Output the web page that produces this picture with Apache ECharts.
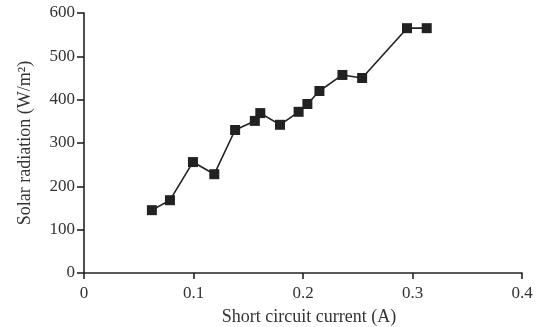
<!DOCTYPE html>
<html>
<head>
<meta charset="utf-8">
<script src="https://cdn.jsdelivr.net/npm/echarts@6/dist/echarts.min.js"></script>
<style>
  html, body { margin: 0; padding: 0; background: #fff; }
  #chart { width: 537px; height: 327px; }
</style>
</head>
<body>
<div id="chart"></div>
<script>
// Short circuit current (A) vs solar radiation (W/m2)
const current = [0.062, 0.0785, 0.0995, 0.119, 0.138, 0.156, 0.161, 0.179, 0.196, 0.204, 0.215, 0.236, 0.254, 0.295, 0.313];
const radiation = [145, 168, 256, 228, 330, 351, 369, 342, 372, 390, 420, 457, 450, 565, 565];

const points = current.map((x, i) => [x, radiation[i]]);

const font = 'Liberation Serif, Times New Roman, serif';
const axisLine = { show: true, lineStyle: { color: '#222', width: 1.6 } };

const chart = echarts.init(document.getElementById('chart'));
chart.setOption({
  backgroundColor: '#fff',
  animation: false,
  grid: { left: 84, right: 15, top: 13, bottom: 54, outerBoundsMode: 'none' },
  xAxis: {
    type: 'value',
    min: 0,
    max: 0.4,
    interval: 0.1,
    name: 'Short circuit current (A)',
    nameLocation: 'middle',
    nameGap: 35,
    nameTextStyle: { fontFamily: font, fontSize: 18, color: '#333', padding: [0, 0, 0, 12] },
    axisLine: axisLine,
    axisTick: { show: true, length: 6, inside: false, lineStyle: { color: '#222', width: 1.6 } },
    axisLabel: { fontFamily: font, fontSize: 17, color: '#333', margin: 12 },
    splitLine: { show: false }
  },
  yAxis: {
    type: 'value',
    min: 0,
    max: 600,
    interval: 100,
    name: 'Solar radiation (W/m²)',
    nameLocation: 'middle',
    nameGap: 50,
    nameTextStyle: { fontFamily: font, fontSize: 18, color: '#333' },
    axisLine: axisLine,
    axisTick: { show: true, length: 7, lineStyle: { color: '#222', width: 1.6 } },
    axisLabel: { fontFamily: font, fontSize: 17, color: '#333', margin: 9 },
    splitLine: { show: false }
  },
  series: [{
    type: 'line',
    data: points,
    symbol: 'rect',
    symbolSize: 10,
    showAllSymbol: true,
    lineStyle: { color: '#222', width: 1.6 },
    itemStyle: { color: '#222' }
  }]
});
</script>
</body>
</html>
